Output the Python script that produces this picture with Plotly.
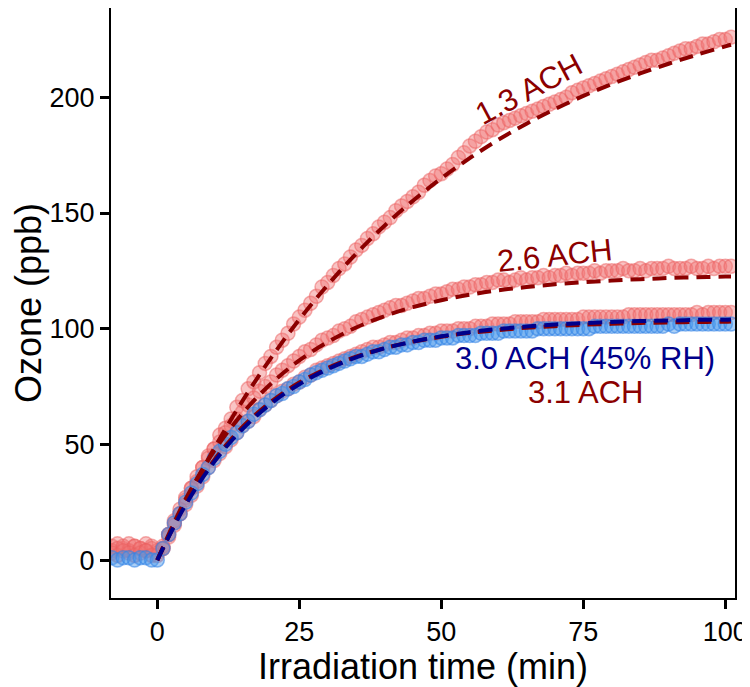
import plotly.graph_objects as go

# irradiation time, one reading per minute (min)
time_min = list(range(-8, 102))

# measured ozone (ppb)
ach13_obs = [6, 7, 5, 7, 6, 5, 7, 6,
             4, 5, 11, 16, 20, 26, 31, 34, 40, 45, 48, 54, 57, 61, 66, 69, 74, 77, 81, 85,
             88, 92, 95, 98, 102, 105, 108, 111, 114, 118, 120, 123, 126, 128, 131, 134, 136, 139,
             141, 144, 146, 148, 151, 153, 155, 157, 159, 162, 164, 166, 167, 169, 171, 174, 176, 179,
             181, 183, 185, 186, 188, 189, 190, 191, 192, 193, 194, 195, 196, 197, 198, 199, 200, 202,
             203, 204, 205, 206, 207, 208, 209, 210, 211, 212, 213, 214, 215, 216, 216, 217, 218, 219,
             220, 221, 221, 222, 223, 223, 224, 225, 225, 226]
ach26_obs = [4, 5, 6, 4, 6, 5, 4, 5,
             3, 6, 11, 17, 22, 27, 31, 36, 40, 44, 48, 51, 55, 58, 61, 64, 67, 70, 73, 75,
             77, 80, 82, 84, 86, 88, 90, 91, 93, 95, 96, 97, 99, 100, 101, 103, 104, 105,
             106, 107, 108, 109, 110, 110, 111, 112, 113, 113, 114, 115, 115, 116, 117, 117, 118, 118,
             119, 119, 120, 120, 121, 121, 120, 121, 122, 121, 122, 122, 123, 122, 123, 123, 124, 123,
             124, 124, 124, 125, 124, 125, 125, 125, 126, 125, 125, 126, 125, 126, 126, 126, 127, 126,
             126, 126, 127, 126, 126, 127, 126, 127, 127, 127]
ach31_obs = [3, 2, 4, 3, 2, 3, 4, 2,
             2, 5, 10, 15, 20, 24, 28, 32, 36, 40, 43, 46, 49, 52, 55, 58, 60, 62, 65, 67,
             69, 71, 73, 74, 76, 77, 79, 80, 82, 83, 84, 85, 86, 87, 88, 89, 90, 91,
             92, 92, 93, 94, 94, 95, 96, 96, 97, 97, 98, 98, 99, 99, 99, 100, 100, 100,
             101, 101, 101, 102, 102, 102, 102, 103, 103, 103, 103, 103, 104, 104, 104, 104, 104, 104,
             104, 105, 105, 105, 105, 105, 105, 105, 105, 106, 106, 106, 106, 106, 106, 106, 106, 106,
             106, 106, 106, 107, 106, 107, 107, 107, 107, 107]
ach30_obs = [1, 0, 1, 1, 0, 1, 1, 0,
             0, 5, 11, 16, 20, 25, 29, 33, 37, 40, 44, 47, 50, 53, 55, 58, 60, 63, 65, 67,
             69, 71, 72, 74, 75, 77, 78, 80, 81, 82, 83, 84, 85, 86, 87, 88, 88, 89,
             90, 90, 91, 92, 92, 93, 93, 94, 94, 95, 95, 95, 96, 96, 96, 97, 97, 97,
             97, 98, 98, 98, 98, 99, 99, 99, 99, 99, 99, 100, 100, 100, 100, 100, 100, 100,
             100, 100, 100, 101, 101, 101, 101, 101, 101, 101, 101, 101, 101, 101, 101, 101, 102, 101,
             102, 102, 102, 102, 102, 102, 102, 102, 102, 102]

# model fits (ppb)
fit_time = [0, 5, 10, 15, 20, 25, 30, 35, 40, 45, 50, 55, 60, 65, 70, 75, 80, 85, 90, 95, 100, 101]
ach13_fit = [0, 25.2, 48.2, 68.8, 87.3, 104.0, 118.9, 132.4, 144.5, 155.3, 165.0, 173.7, 181.6,
             188.6, 194.9, 200.6, 205.7, 210.3, 214.5, 218.4, 222.0, 222.7]
ach26_fit = [0, 26.4, 47.1, 63.4, 76.2, 86.3, 94.2, 100.5, 105.4, 109.3, 112.3, 114.7, 116.6,
             118.0, 119.2, 120.1, 120.8, 121.4, 121.9, 122.2, 122.5, 122.5]
ach31_fit = [0, 24.5, 43.2, 57.5, 68.4, 76.7, 83.0, 87.9, 91.6, 94.4, 96.5, 98.2, 99.4,
             100.4, 101.1, 101.7, 102.1, 102.5, 102.7, 102.9, 103.0, 103.1]
ach30_fit = [0, 23.9, 42.4, 56.6, 67.6, 76.0, 82.5, 87.6, 91.5, 94.4, 96.7, 98.5, 99.9,
             100.9, 101.8, 102.4, 102.9, 103.3, 103.5, 103.8, 103.9, 104.0]

RED_FILL = "rgba(240, 115, 115, 0.42)"
RED_EDGE = "rgba(235, 95, 95, 0.50)"
BLUE_FILL = "rgba(70, 150, 235, 0.45)"
BLUE_EDGE = "rgba(50, 130, 230, 0.55)"
DARK_RED = "#8B0000"
DARK_BLUE = "#00008B"
FONT = "Liberation Sans, Arial, sans-serif"

fig = go.Figure()

# observations
for obs in [ach13_obs, ach26_obs, ach31_obs]:
    fig.add_trace(go.Scatter(
        x=time_min, y=obs, mode="markers",
        marker=dict(size=14, color=RED_FILL, line=dict(color=RED_EDGE, width=1.5)),
        showlegend=False
    ))
fig.add_trace(go.Scatter(
    x=time_min, y=ach30_obs, mode="markers",
    marker=dict(size=14, color=BLUE_FILL, line=dict(color=BLUE_EDGE, width=1.5)),
    showlegend=False
))

# fits
for fit, col in [(ach13_fit, DARK_RED), (ach26_fit, DARK_RED), (ach31_fit, DARK_RED), (ach30_fit, DARK_BLUE)]:
    fig.add_trace(go.Scatter(
        x=fit_time, y=fit, mode="lines",
        line=dict(color=col, width=4, dash="14px,8px", shape="spline"),
        showlegend=False
    ))

# curve labels
fig.add_annotation(x=65.3, y=203.5, text="1.3 ACH", showarrow=False, textangle=-28,
                   font=dict(size=31, color=DARK_RED, family=FONT))
fig.add_annotation(x=70, y=131.5, text="2.6 ACH", showarrow=False, textangle=-6,
                   font=dict(size=31, color=DARK_RED, family=FONT))
fig.add_annotation(x=75.3, y=87.3, text="3.0 ACH (45% RH)", showarrow=False,
                   font=dict(size=31, color=DARK_BLUE, family=FONT))
fig.add_annotation(x=75.3, y=72.6, text="3.1 ACH", showarrow=False,
                   font=dict(size=31, color=DARK_RED, family=FONT))

axis_style = dict(
    showline=True, linecolor="black", linewidth=2, mirror=True,
    ticks="outside", ticklen=9, tickwidth=2.5, tickcolor="black",
    showgrid=False, zeroline=False, automargin=False,
    tickfont=dict(size=27, color="black", family=FONT),
)

# the page puts the figure 8px in from the window corner, so size/margins allow for it
fig.update_layout(
    width=742, height=679,
    plot_bgcolor="white", paper_bgcolor="white",
    margin=dict(l=103, r=15, t=0, b=89),
    xaxis=dict(range=[-8.15, 101.7], tickvals=[0, 25, 50, 75, 100],
               title=dict(text="Irradiation time (min)", font=dict(size=36, color="black", family=FONT)),
               **axis_style),
    yaxis=dict(range=[-16.4, 238.6], tickvals=[0, 50, 100, 150, 200],
               title=dict(text="Ozone (ppb)", font=dict(size=36, color="black", family=FONT)),
               **axis_style),
)

fig.write_html("out.html")
